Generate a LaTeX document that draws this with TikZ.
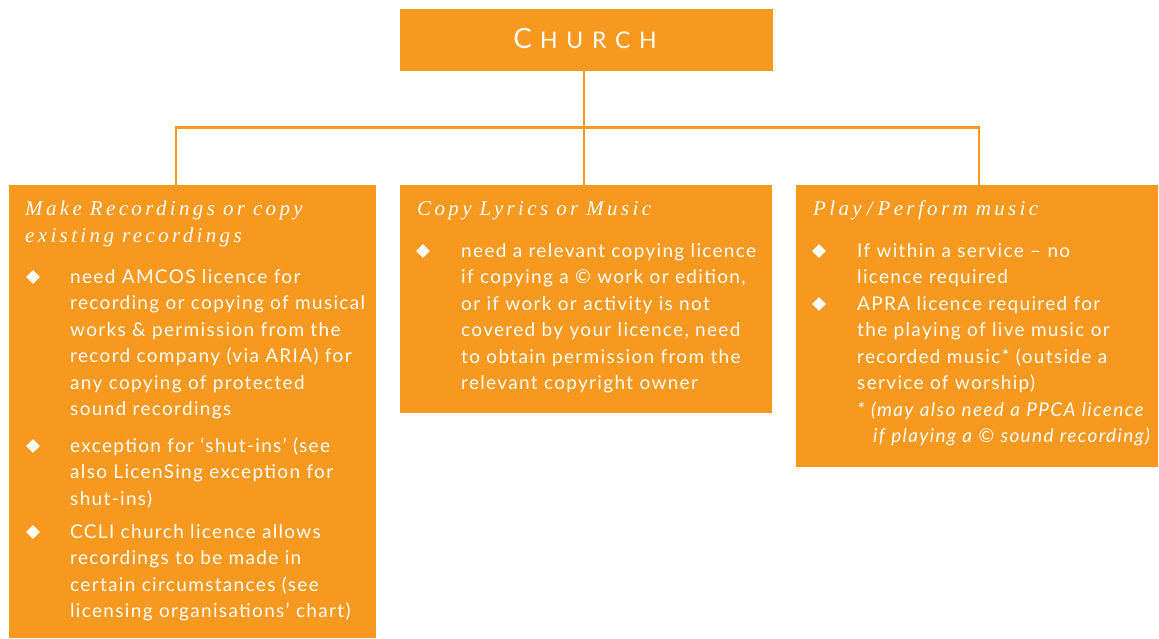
\documentclass[tikz,border=0pt]{standalone}
\usepackage{fontspec}
\usepackage{tikz}
\usetikzlibrary{shapes.geometric}
\newfontfamily\bodyfont[LetterSpace=7]{Lato}
\newfontfamily\headfont[LetterSpace=16]{Liberation Serif}
\newfontfamily\titlefont[LetterSpace=38]{Lato}
\newcommand\hdwordsp{\spaceskip=8pt plus 2pt\relax}
\definecolor{churchorange}{RGB}{247,152,31}
\begin{document}
\begin{tikzpicture}
		[x=1pt,y=-1pt,
		box/.style= {fill=churchorange,draw=none,inner sep=0,anchor=north west},
		hd/.style= {font=\headfont\itshape\fontsize{21}{27}\selectfont,execute at begin node=\hdwordsp,text=white,inner sep=0,anchor=base west,text width=345,align=left},
		tx/.style= {font=\bodyfont\fontsize{19}{26.5}\selectfont,text=white,inner sep=0,anchor=base west,text width=300,align=left},
		bul/.style= {diamond,fill=white,inner sep=0,minimum width=14,minimum height=14},
		ln/.style= {draw=churchorange,line width=2.6pt}]

		\useasboundingbox (0,0) rectangle (1159,638);

		\node[box,minimum width=373,minimum height=62] (church) at (400,9) {};
		\node[text=white,font=\titlefont,anchor=base] (churchtxt) at (585,48)
			{{\fontsize{28}{28}\selectfont C}\hspace{8pt}{\fontsize{23}{28}\selectfont HURCH}};

		\node[box,minimum width=367,minimum height=453] (rec) at (9,185) {};
		\node[box,minimum width=372,minimum height=228] (cop) at (400,185) {};
		\node[box,minimum width=362,minimum height=282] (play) at (796,185) {};

		\coordinate (jl) at (176,127.5);
		\coordinate (jm) at (584,127.5);
		\coordinate (jr) at (979,127.5);

		\draw[ln] (jm |- church.south) -- (jm |- cop.north);
		\draw[ln] (jl |- rec.north) -- (jl) -- (jr) -- (jr |- play.north);

		% Make Recordings
		\node[hd] (rech) at (25,215) {Make Recordings or copy\\existing recordings};
		\node[bul] (recb1) at (33,277) {};
		\node[tx] (rect1) at (70,283) {need AMCOS licence for\\recording or copying of musical\\works \& permission from the\\record company (via ARIA) for\\any copying of protected\\sound recordings};
		\node[bul] (recb2) at (33,446) {};
		\node[tx] (rect2) at (70,452) {exception for ‘shut-ins’ (see\\also LicenSing exception for\\shut-ins)};
		\node[bul] (recb3) at (33,532) {};
		\node[tx] (rect3) at (70,538) {CCLI church licence allows\\recordings to be made in\\certain circumstances (see\\licensing organisations’ chart)};

		% Copy Lyrics
		\node[hd] (coph) at (417,215) {Copy Lyrics or Music};
		\node[bul] (copb1) at (423,251) {};
		\node[tx] (copt1) at (461,257) {need a relevant copying licence\\if copying a © work or edition,\\or if work or activity is not\\covered by your licence, need\\to obtain permission from the\\relevant copyright owner};

		% Play / Perform
		\node[hd] (playh) at (813,215) {Play\hspace{5pt}/\hspace{5pt}Perform music};
		\node[bul] (playb1) at (819,251) {};
		\node[tx] (playt1) at (857,257) {If within a service – no\\licence required};
		\node[bul] (playb2) at (819,304) {};
		\node[tx] (playt2) at (857,310) {APRA licence required for\\the playing of live music or\\recorded music* (outside a\\service of worship)};
		\node[tx,font=\bodyfont\itshape\fontsize{19}{26.5}\selectfont] (playn) at (857,416) {* (may also need a PPCA licence\\\hspace*{16pt}if playing a © sound recording)};

\end{tikzpicture}
\end{document}
